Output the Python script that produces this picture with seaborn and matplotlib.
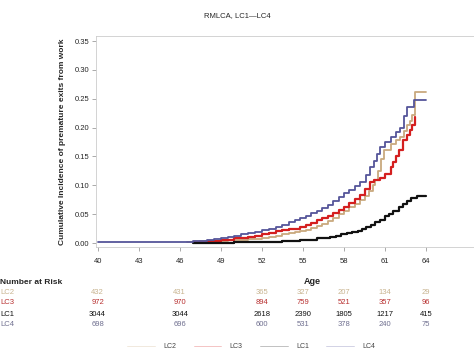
import pandas as pd
import matplotlib
matplotlib.use("Agg")
import matplotlib.pyplot as plt
import seaborn as sns

# curves (age, cumulative incidence)
lc4_age = [40, 46.3, 47, 47.5, 48, 48.5, 49, 49.5, 50, 50.5, 51, 51.5, 52, 52.5, 53, 53.5, 54, 54.4,
           54.8, 55.2, 55.6, 56, 56.4, 56.8, 57.2, 57.6, 58, 58.4, 58.8, 59.2, 59.6, 59.9, 60.2, 60.4,
           60.6, 61, 61.4, 61.8, 62.1, 62.4, 62.6, 63.1, 64]
lc4_val = [0.001, 0.002, 0.003, 0.004, 0.006, 0.007, 0.009, 0.011, 0.013, 0.015, 0.017, 0.019, 0.022,
           0.024, 0.027, 0.031, 0.037, 0.040, 0.043, 0.047, 0.052, 0.056, 0.060, 0.066, 0.072, 0.079,
           0.086, 0.092, 0.098, 0.106, 0.118, 0.132, 0.143, 0.155, 0.167, 0.175, 0.184, 0.192, 0.200,
           0.220, 0.236, 0.248, 0.248]

lc3_age = [47, 47.5, 48, 48.5, 49, 49.5, 50, 50.5, 51, 51.5, 52, 52.5, 53, 53.5, 54, 54.4, 54.8, 55.2,
           55.6, 56, 56.4, 56.8, 57.2, 57.6, 58, 58.4, 58.8, 59.2, 59.5, 59.9, 60.2, 60.6, 61, 61.4,
           61.6, 61.8, 62.0, 62.3, 62.6, 62.8, 63.0, 63.2]
lc3_val = [0.001, 0.002, 0.003, 0.004, 0.005, 0.006, 0.008, 0.009, 0.011, 0.013, 0.015, 0.017, 0.020,
           0.022, 0.024, 0.025, 0.027, 0.031, 0.035, 0.040, 0.043, 0.047, 0.052, 0.058, 0.063, 0.070,
           0.076, 0.084, 0.094, 0.106, 0.109, 0.112, 0.120, 0.132, 0.140, 0.150, 0.162, 0.178, 0.188,
           0.196, 0.205, 0.219]

lc2_age = [46.5, 47.5, 48.5, 49.5, 50.5, 51, 52, 52.5, 53, 53.5, 54, 54.4, 54.8, 55.2, 55.6, 56,
           56.4, 56.8, 57.2, 57.6, 58, 58.4, 58.8, 59.2, 59.5, 59.8, 60.1, 60.3, 60.5, 60.7, 60.9,
           61.4, 61.8, 62.1, 62.4, 62.6, 62.8, 63.0, 63.2, 64]
lc2_val = [0.002, 0.003, 0.004, 0.005, 0.006, 0.007, 0.009, 0.011, 0.013, 0.015, 0.017, 0.019, 0.020,
           0.023, 0.026, 0.030, 0.033, 0.038, 0.044, 0.050, 0.056, 0.062, 0.068, 0.075, 0.082, 0.090,
           0.100, 0.109, 0.125, 0.145, 0.161, 0.172, 0.178, 0.184, 0.195, 0.205, 0.212, 0.222, 0.262,
           0.262]

lc1_age = [47, 50, 52, 53.5, 54.8, 55.5, 56, 56.5, 57, 57.4, 57.8, 58.2, 58.6, 59, 59.3, 59.6, 60,
           60.3, 60.6, 61, 61.3, 61.6, 62, 62.3, 62.6, 62.9, 63.3, 64]
lc1_val = [0.000, 0.001, 0.002, 0.003, 0.005, 0.006, 0.008, 0.009, 0.011, 0.013, 0.015, 0.017, 0.019,
           0.021, 0.024, 0.028, 0.032, 0.036, 0.040, 0.046, 0.051, 0.056, 0.062, 0.068, 0.073, 0.078,
           0.081, 0.082]

# number at risk table
risk_ages = [40, 46, 52, 55, 58, 61, 64]
risk_lc2 = [432, 431, 365, 327, 207, 134, 29]
risk_lc3 = [972, 970, 894, 759, 521, 357, 96]
risk_lc1 = [3044, 3044, 2618, 2390, 1805, 1217, 415]
risk_lc4 = [698, 696, 600, 531, 378, 240, 75]

groups = ["LC2", "LC3", "LC1", "LC4"]
colors = {"LC2": "#c9a97e", "LC3": "#d41f1f", "LC1": "#111111", "LC4": "#55559a"}
text_colors = {"LC2": "#c8b490", "LC3": "#b83030", "LC1": "#111111", "LC4": "#707090"}

df = pd.concat([
    pd.DataFrame({"age": lc2_age, "ci": lc2_val, "group": "LC2"}),
    pd.DataFrame({"age": lc3_age, "ci": lc3_val, "group": "LC3"}),
    pd.DataFrame({"age": lc1_age, "ci": lc1_val, "group": "LC1"}),
    pd.DataFrame({"age": lc4_age, "ci": lc4_val, "group": "LC4"}),
])

sns.set_style("white")
plt.rcParams["font.family"] = ["Liberation Sans", "DejaVu Sans"]

fig = plt.figure(figsize=(4.74, 3.55), dpi=100)
ax = fig.add_axes([0.203, 0.304, 0.80, 0.595])

sns.lineplot(data=df, x="age", y="ci", hue="group", hue_order=groups, palette=colors,
             estimator=None, drawstyle="steps-post", linewidth=1.3, legend=False, ax=ax)
for line in ax.lines:
    if line.get_color() in ("#d41f1f", "#111111"):
        line.set_linewidth(1.6)

ax.set_xlim(39.9, 67.6)
ax.set_ylim(-0.007, 0.359)
ax.set_xticks(range(40, 65, 3))
ax.set_yticks([0, 0.05, 0.10, 0.15, 0.20, 0.25, 0.30, 0.35])
ax.set_yticklabels(["0.00", "0.05", "0.10", "0.15", "0.20", "0.25", "0.30", "0.35"])
ax.tick_params(axis="both", labelsize=5.5, length=3, width=0.5, color="#888888", direction="out",
               bottom=True, left=True, pad=2)
ax.tick_params(axis="x", pad=5)
for s in ["left", "bottom", "top"]:
    ax.spines[s].set_color("#cccccc")
    ax.spines[s].set_linewidth(0.6)
ax.spines["right"].set_visible(False)

ax.set_xlabel("")
ax.set_ylabel("Cumulative Incidence of premature exits from work", fontsize=6, fontweight="bold",
              labelpad=6)
fig.text(0.5, 0.955, "RMLCA, LC1\u2014LC4", ha="center", va="center", fontsize=5.5)

# Age label and at-risk table below the axes
xt = ax.get_xaxis_transform()
ax.text(55.7, -0.161, "Age", transform=xt, ha="center", va="center", fontsize=6.5, fontweight="bold")
fig.text(0.0, 1 - 282 / 355, "Number at Risk", ha="left", va="center", fontsize=6, fontweight="bold")
rows = {"LC2": risk_lc2, "LC3": risk_lc3, "LC1": risk_lc1, "LC4": risk_lc4}
row_y = {"LC2": 292, "LC3": 303, "LC1": 314, "LC4": 324}
for g in groups:
    fy = 1 - row_y[g] / 355
    fig.text(0.0, fy, g, ha="left", va="center", fontsize=5.5, color=text_colors[g])
    ay = (fy - 0.304) / 0.595
    for a, n in zip(risk_ages, rows[g]):
        ax.text(a, ay, str(n), transform=xt, ha="center", va="center", fontsize=5.5,
                color=text_colors[g], clip_on=False)

# faint legend at the bottom
handles = [plt.Line2D([], [], color=colors[g], lw=0.6, alpha=0.3) for g in groups]
fig.legend(handles, groups, loc="center", bbox_to_anchor=(0.53, 1 - 347 / 355), ncol=4,
           frameon=False, fontsize=5, handlelength=4, columnspacing=2.5, handletextpad=1.2,
           labelcolor="#444444")

fig.savefig("out.png", dpi=100)
